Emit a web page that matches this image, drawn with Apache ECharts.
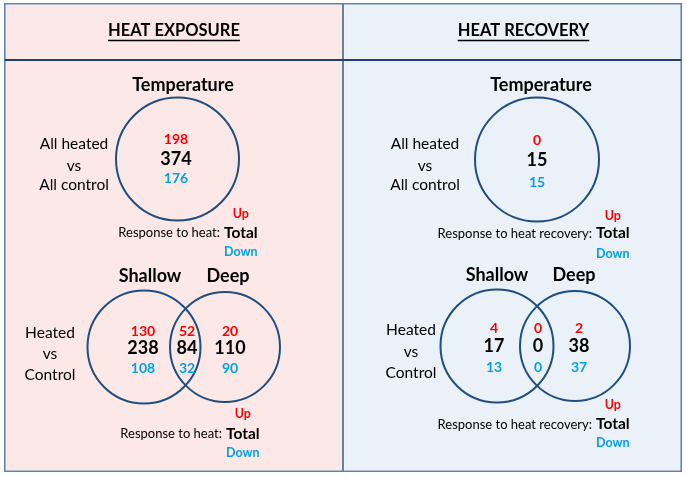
<!DOCTYPE html>
<html><head><meta charset="utf-8">
<script src="https://cdn.jsdelivr.net/npm/echarts@6/dist/echarts.min.js"></script>
<style>html,body{margin:0;padding:0;background:#fff}#c{width:686px;height:478px}</style>
</head><body><div id="c"></div>
<script>
// ---------------- data ----------------
const panelTitles = ['HEAT EXPOSURE', 'HEAT RECOVERY'];
const singleTitle = 'Temperature';
const singleRowLabels = ['All heated', 'vs', 'All control'];
const pairRowLabels = ['Heated', 'vs', 'Control'];
const setNames = ['Shallow', 'Deep'];
const responseLabels = ['Response to heat:', 'Response to heat recovery:'];
const keyLabels = ['Up', 'Total', 'Down'];
// values per panel: [heat exposure, heat recovery]
const tempUp = [198, 0];
const tempTotal = [374, 15];
const tempDown = [176, 15];
const shallowOnlyUp = [130, 4];
const shallowOnlyTotal = [238, 17];
const shallowOnlyDown = [108, 13];
const sharedUp = [52, 0];
const sharedTotal = [84, 0];
const sharedDown = [32, 0];
const deepOnlyUp = [20, 2];
const deepOnlyTotal = [110, 38];
const deepOnlyDown = [90, 37];

// ---------------- layout (pixel units of the hidden axes) ----------------
const W = 686, H = 478;
const FONT = 'Lato, "Open Sans", sans-serif';
const layout = [
  { x0: 6, x1: 341.8, fill: '#fde8e8',
    title: [174, 31], head: [183, 85],
    circle: { x: 177.5, y: 159, r: 61.5 },
    numX: 176, numY: [139, 159, 178],
    rowX: 74, rowY: [144, 166, 185],
    resp: { totalX: 224, y: 232.5, upY: 214, downY: 252 },
    names: { x: [150, 228], y: 276 },
    pair: [{ x: 144, y: 347, r: 56.5 }, { x: 225, y: 347, r: 55 }],
    pairNumX: [143, 187, 230], pairNumY: [331, 348, 368],
    pairRowX: 50, pairRowY: [333, 354, 375],
    resp2: { totalX: 226, y: 433.5, upY: 414, downY: 453 } },
  { x0: 344.3, x1: 680, fill: '#eaf1f9',
    title: [523.5, 31], head: [541, 85],
    circle: { x: 537, y: 159.5, r: 62 },
    numX: 537, numY: [140, 160, 182],
    rowX: 425, rowY: [144, 166, 185],
    resp: { totalX: 596, y: 233, upY: 216, downY: 254 },
    names: { x: [497, 574], y: 275 },
    pair: [{ x: 497, y: 346, r: 56.5 }, { x: 575, y: 346, r: 55 }],
    pairNumX: [494, 538, 579], pairNumY: [328, 346, 367],
    pairRowX: 411, pairRowY: [330, 352, 373],
    resp2: { totalX: 596, y: 424, upY: 405, downY: 443 } }
];
const FRAME = { x0: 4.8, x1: 681.2, y0: 3.8, y1: 471.2, divX: 343 };
const HEADER_Y = 60;

const styles = {
  title:  { font: 'bold 16.5px ' + FONT, color: '#000' },
  head:   { font: 'bold 18px ' + FONT, color: '#000' },
  row:    { font: '15.5px ' + FONT, color: '#000' },
  up:     { font: 'bold 14px ' + FONT, color: '#ff0000' },
  total:  { font: 'bold 18px ' + FONT, color: '#000' },
  down:   { font: 'bold 14px ' + FONT, color: '#00a2e8' },
  kUp:    { font: 'bold 12.5px ' + FONT, color: '#ff0000' },
  kTotal: { font: 'bold 15.5px ' + FONT, color: '#000' },
  kDown:  { font: 'bold 12.5px ' + FONT, color: '#00a2e8' },
  resp:   { font: '13px ' + FONT, color: '#000' }
};

const measure = (() => {
  const ctx = document.createElement('canvas').getContext('2d');
  return (text, font) => { ctx.font = font; return ctx.measureText(text).width; };
})();

// ---------------- build text items ----------------
const texts = [];
const underlines = [];
function add(x, y, text, kind, align) { texts.push({ x, y, text: String(text), kind, align: align || 'center' }); }
function addResponse(i, r) {
  const tw = measure(keyLabels[1], styles.kTotal.font);
  add(r.totalX - 4, r.y + 0.8, responseLabels[i], 'resp', 'right');
  add(r.totalX, r.y, keyLabels[1], 'kTotal', 'left');
  const cx = r.totalX + tw / 2;
  add(cx, r.upY, keyLabels[0], 'kUp');
  add(cx, r.downY, keyLabels[2], 'kDown');
}
panelTitles.forEach((t, i) => {
  const L = layout[i];
  add(L.title[0], L.title[1], t, 'title');
  const w = measure(t, styles.title.font);
  underlines.push({ x0: L.title[0] - w / 2, x1: L.title[0] + w / 2, y: L.title[1] + 9.5 });
  add(L.head[0], L.head[1], singleTitle, 'head');
  singleRowLabels.forEach((s, k) => add(L.rowX, L.rowY[k], s, 'row'));
  add(L.numX, L.numY[0], tempUp[i], 'up');
  add(L.numX, L.numY[1], tempTotal[i], 'total');
  add(L.numX, L.numY[2], tempDown[i], 'down');
  addResponse(i, L.resp);
  setNames.forEach((s, k) => add(L.names.x[k], L.names.y, s, 'head'));
  pairRowLabels.forEach((s, k) => add(L.pairRowX, L.pairRowY[k], s, 'row'));
  const groups = [
    [shallowOnlyUp[i], shallowOnlyTotal[i], shallowOnlyDown[i]],
    [sharedUp[i], sharedTotal[i], sharedDown[i]],
    [deepOnlyUp[i], deepOnlyTotal[i], deepOnlyDown[i]]
  ];
  groups.forEach((g, c) => {
    add(L.pairNumX[c], L.pairNumY[0], g[0], 'up');
    add(L.pairNumX[c], L.pairNumY[1], g[1], 'total');
    add(L.pairNumX[c], L.pairNumY[2], g[2], 'down');
  });
  addResponse(i, L.resp2);
});

const circles = [];
layout.forEach(L => { circles.push(L.circle, L.pair[0], L.pair[1]); });

// ---------------- chart ----------------
const chart = echarts.init(document.getElementById('c'), null, { renderer: 'canvas' });
chart.setOption({
  animation: false,
  backgroundColor: '#ffffff',
  grid: { left: 0, right: 0, top: 0, bottom: 0 },
  xAxis: { type: 'value', min: 0, max: W, show: false },
  yAxis: { type: 'value', min: 0, max: H, inverse: true, show: false },
  series: [
    { type: 'custom', silent: true, z: 1, clip: false,
      data: layout.map((L, i) => [L.x0, FRAME.y0, i]),
      renderItem: (params, api) => {
        const L = layout[params.dataIndex];
        const a = api.coord([L.x0, FRAME.y0 + 1.3]), b = api.coord([L.x1, FRAME.y1 - 1.3]);
        return { type: 'rect', shape: { x: a[0], y: a[1], width: b[0] - a[0], height: b[1] - a[1] },
          style: { fill: L.fill } };
      } },
    { type: 'custom', silent: true, z: 2, clip: false,
      data: [[FRAME.x0, FRAME.y0]],
      renderItem: (params, api) => {
        const a = api.coord([FRAME.x0, FRAME.y0]), b = api.coord([FRAME.x1, FRAME.y1]);
        const d = api.coord([FRAME.divX, HEADER_Y]);
        return { type: 'group', children: [
          { type: 'rect', shape: { x: a[0], y: a[1], width: b[0] - a[0], height: b[1] - a[1] },
            style: { fill: 'none', stroke: '#5d82ad', lineWidth: 1.6 } },
          { type: 'line', shape: { x1: d[0], y1: a[1], x2: d[0], y2: b[1] },
            style: { stroke: '#5d82ad', lineWidth: 2 } },
          { type: 'line', shape: { x1: a[0], y1: d[1], x2: b[0], y2: d[1] },
            style: { stroke: '#1f3f6e', lineWidth: 2 } }
        ] };
      } },
    { type: 'custom', silent: true, z: 2, clip: false,
      data: underlines.map(u => [u.x0, u.y]),
      renderItem: (params, api) => {
        const u = underlines[params.dataIndex];
        const a = api.coord([u.x0, u.y]), b = api.coord([u.x1, u.y]);
        return { type: 'line', shape: { x1: a[0], y1: a[1], x2: b[0], y2: b[1] },
          style: { stroke: '#000', lineWidth: 1.5 } };
      } },
    { type: 'custom', silent: true, z: 3, clip: false,
      data: circles.map(c => [c.x, c.y, c.r]),
      renderItem: (params, api) => {
        const p = api.coord([api.value(0), api.value(1)]);
        const r = api.size([api.value(2), 0])[0];
        return { type: 'circle', shape: { cx: p[0], cy: p[1], r },
          style: { fill: 'none', stroke: '#1f4e7f', lineWidth: 2 } };
      } },
    { type: 'custom', silent: true, z: 4, clip: false,
      data: texts.map(t => [t.x, t.y]),
      renderItem: (params, api) => {
        const t = texts[params.dataIndex];
        const p = api.coord([api.value(0), api.value(1)]);
        const s = styles[t.kind];
        return { type: 'text', x: p[0], y: p[1],
          style: { text: t.text, fill: s.color, font: s.font, align: t.align, verticalAlign: 'middle' } };
      } }
  ]
});
</script>
</body></html>
